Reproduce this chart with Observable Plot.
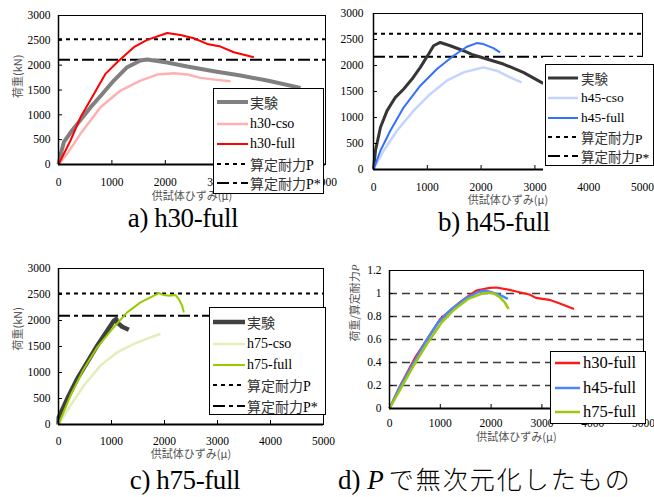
<!DOCTYPE html>
<html><head><meta charset="utf-8">
<script src="https://cdn.jsdelivr.net/npm/d3@7"></script>
<script src="https://cdn.jsdelivr.net/npm/@observablehq/plot@0.6"></script>
<style>
body{margin:0;background:#fff;}
#root{position:relative;width:654px;height:497px;overflow:hidden;background:#fff;}
.legend{position:absolute;background:#fff;border:1px solid #000;box-sizing:border-box;}
.cjk{font-family:"Noto Sans CJK JP",sans-serif;color:#333;}
.lat{font-family:"Liberation Serif",serif;color:#000;}
</style></head><body><div id="root"></div>
<script>
// ---------- data ----------
const xTicks = [0, 1000, 2000, 3000, 4000, 5000];
const loadTicks = [0, 500, 1000, 1500, 2000, 2500, 3000];
const ratioTicks = [0, 0.2, 0.4, 0.6, 0.8, 1, 1.2];
const ratioGrid = [0.2, 0.4, 0.6, 0.8, 1.0];
const xLabelText = "供試体ひずみ(μ)";
const yLabelLoad = "荷重(kN)";
const yLabelRatio = "荷重/算定耐力P";
const legendLabelsA = ["実験", "h30-cso", "h30-full", "算定耐力P", "算定耐力P*"];
const legendLabelsB = ["実験", "h45-cso", "h45-full", "算定耐力P", "算定耐力P*"];
const legendLabelsC = ["実験", "h75-cso", "h75-full", "算定耐力P", "算定耐力P*"];
const legendLabelsD = ["h30-full", "h45-full", "h75-full"];
const captions = ["a) h30-full", "b) h45-full", "c) h75-full"];

// panel a (h30)
const a_P = 2520, a_Pstar = 2110;
const a_exp_x = [0, 40, 100, 250, 400, 599, 787, 1036, 1286, 1536, 1661, 2035, 2410, 2909, 3408, 3908, 4532];
const a_exp_y = [0, 200, 450, 680, 880, 1150, 1380, 1690, 1959, 2093, 2115, 2052, 1972, 1878, 1791, 1690, 1543];
const a_cso_x = [0, 162, 412, 787, 1161, 1536, 1848, 2160, 2410, 2659, 2972, 3221];
const a_cso_y = [0, 215, 617, 1153, 1489, 1690, 1811, 1837, 1811, 1744, 1704, 1676];
const a_full_x = [0, 225, 412, 599, 880, 1099, 1411, 1661, 2035, 2285, 2534, 2784, 3034, 3283, 3658];
const a_full_y = [0, 483, 950, 1300, 1825, 2059, 2361, 2509, 2649, 2609, 2542, 2428, 2374, 2260, 2159];

// panel b (h45)
const b_P = 2610, b_Pstar = 2170;
const b_exp_x = [0, 37, 130, 253, 407, 562, 716, 870, 1025, 1117, 1241, 1426, 1673, 1858, 2167, 2413, 2784, 3154];
const b_exp_y = [0, 365, 812, 1132, 1388, 1548, 1740, 1964, 2220, 2380, 2443, 2380, 2284, 2201, 2105, 2028, 1868, 1657];
const b_cso_x = [0, 191, 438, 747, 1056, 1364, 1673, 1920, 2043, 2290, 2537, 2753];
const b_cso_y = [0, 365, 749, 1132, 1453, 1708, 1868, 1932, 1964, 1900, 1772, 1676];
const b_full_x = [0, 130, 315, 562, 870, 1179, 1488, 1735, 1920, 2043, 2228, 2352];
const b_full_y = [0, 365, 749, 1196, 1612, 1932, 2188, 2361, 2431, 2412, 2335, 2252];

// panel c (h75)
const c_P = 2520, c_Pstar = 2090;
const c_exp_x = [0, 6, 164, 352, 541, 730, 918, 1044, 1088, 1107, 1201, 1327];
const c_exp_y = [0, 141, 493, 877, 1196, 1516, 1804, 1996, 2028, 1964, 1881, 1823];
const c_cso_x = [0, 226, 478, 792, 1107, 1421, 1736, 1925];
const c_cso_y = [0, 365, 749, 1132, 1388, 1549, 1676, 1741];
const c_full_x = [0, 226, 478, 730, 1013, 1296, 1547, 1736, 1893, 1987, 2082, 2208, 2270, 2333, 2365];
const c_full_y = [0, 557, 1069, 1484, 1836, 2156, 2348, 2444, 2528, 2489, 2476, 2489, 2412, 2284, 2156];

// panel d (normalised by P)
const d_h30_x = [0, 200, 500, 1000, 1400, 1712, 1973, 2103, 2363, 2494, 2754, 2884, 3145, 3340, 3633];
const d_h30_y = [0, 0.19, 0.44, 0.78, 0.93, 1.026, 1.049, 1.052, 1.032, 1.017, 0.991, 0.962, 0.945, 0.915, 0.866];
const d_h45_x = [0, 182, 443, 703, 963, 1225, 1484, 1744, 1875, 2006, 2168, 2330];
const d_h45_y = [0, 0.169, 0.372, 0.575, 0.750, 0.866, 0.953, 1.011, 1.026, 1.011, 0.988, 0.953];
const d_h75_x = [0, 215, 475, 736, 1029, 1289, 1549, 1810, 1940, 2070, 2168, 2266, 2344];
const d_h75_y = [0, 0.169, 0.372, 0.561, 0.750, 0.866, 0.953, 0.997, 1.006, 0.997, 0.968, 0.924, 0.866];

// ---------- helpers ----------
const root = document.getElementById("root");
const SVGNS = "http://www.w3.org/2000/svg";
const rows = (xs, ys) => xs.map((x, i) => ({x, y: ys[i]}));
const CJKF = "'Noto Sans CJK JP', sans-serif";
const SERIF = "'Liberation Serif', 'Times New Roman', serif";
const PSTYLE = {color: "#000", width: 2, dash: "4,4"};
const PSSTYLE = {color: "#000", width: 2, dash: "12,4,4,4"};

function rich(str) {
  return str.replace(/([\u3000-\u9fff\uff00-\uffef]+)|([^\u3000-\u9fff\uff00-\uffef]+)/g,
    (m, c, l) => c ? `<span class="cjk">${c}</span>` : `<span class="lat">${l}</span>`);
}

function makePanel(o) {
  const marks = [];
  if (o.grid) marks.push(Plot.ruleY(o.grid, {stroke: "#3a3a3a", strokeWidth: 1.4, strokeDasharray: "8,5"}));
  marks.push(Plot.frame({stroke: "#000", strokeWidth: 1}));
  if (o.P != null) marks.push(Plot.ruleY([o.P], {stroke: "#000", strokeWidth: 2, strokeDasharray: PSTYLE.dash}));
  if (o.Pstar != null) marks.push(Plot.ruleY([o.Pstar], {stroke: "#000", strokeWidth: 2, strokeDasharray: PSSTYLE.dash}));
  for (const s of o.series) {
    marks.push(Plot.line(s.data, {x: "x", y: "y", stroke: s.color, strokeWidth: s.width, strokeLinejoin: "round", strokeLinecap: "butt"}));
  }
  marks.push(Plot.ruleY([0], {stroke: "#000", strokeWidth: 2}));
  marks.push(Plot.ruleX([0], {stroke: "#000", strokeWidth: 1.5}));
  marks.push(Plot.axisX({ticks: xTicks, tickSize: -4, tickPadding: o.padX, tickFormat: d => String(d), label: null}));
  marks.push(Plot.axisY({ticks: o.yTicks, tickSize: -4, tickPadding: o.padY, tickFormat: d => String(d), label: null}));
  marks.push(Plot.text([xLabelText], {frameAnchor: "bottom", dy: o.xLabelDy, fill: "#555", fontFamily: CJKF, fontSize: 11}));
  if (o.yLabel) marks.push(Plot.text([o.yLabel], {frameAnchor: "left", dx: o.yLabelDx, dy: o.yLabelDy, rotate: -90, fill: "#555", fontFamily: CJKF, fontSize: 11}));
  const svg = Plot.plot({
    width: o.width, height: o.height,
    marginTop: o.m[0], marginRight: o.m[1], marginBottom: o.m[2], marginLeft: o.m[3],
    x: {domain: [0, 5000]},
    y: {domain: o.yDomain},
    style: {fontFamily: SERIF, fontSize: "11.5px", color: "#000", background: "transparent", overflow: "visible"},
    marks
  });
  svg.style.position = "absolute";
  svg.style.left = o.left + "px";
  svg.style.top = o.top + "px";
  root.appendChild(svg);
  return svg;
}

function makeLegend(o) {
  if (o.mask) {
    const m = document.createElement("div");
    m.style.cssText = `position:absolute;left:${o.mask[0]}px;top:${o.mask[1]}px;width:${o.mask[2]}px;height:${o.mask[3]}px;background:#fff;`;
    root.appendChild(m);
  }
  const box = document.createElement("div");
  box.className = "legend";
  box.style.cssText += `left:${o.left}px;top:${o.top}px;width:${o.width}px;height:${o.height}px;`;
  o.items.forEach((it, i) => {
    const row = document.createElement("div");
    const cy = o.rowsY[i] - o.top - 1;
    row.style.cssText = `position:absolute;left:0;top:${cy - 12}px;height:24px;width:${o.width - 2}px;`;
    const x1 = o.sampleX[0] - o.left - 1, x2 = o.sampleX[1] - o.left - 1;
    row.innerHTML =
      `<svg width="${o.width - 2}" height="24" style="position:absolute;left:0;top:0">` +
      `<line x1="${x1}" x2="${x2}" y1="12" y2="12" stroke="${it.color}" stroke-width="${it.width}"${it.dash ? ` stroke-dasharray="${it.dash}"` : ""}/></svg>` +
      `<div style="position:absolute;left:${o.textX - o.left - 1}px;top:0;height:24px;line-height:24px;font-size:${o.fontSize}px;white-space:nowrap">${rich(o.labels[i])}</div>`;
    box.appendChild(row);
  });
  root.appendChild(box);
}

// ---------- series styles ----------
const A = [
  {data: rows(a_exp_x, a_exp_y), color: "#808080", width: 4},
  {data: rows(a_cso_x, a_cso_y), color: "#ffb0b0", width: 2.5},
  {data: rows(a_full_x, a_full_y), color: "#ff0000", width: 2}
];
const B = [
  {data: rows(b_exp_x, b_exp_y), color: "#363636", width: 3},
  {data: rows(b_cso_x, b_cso_y), color: "#c4d4ff", width: 2.5},
  {data: rows(b_full_x, b_full_y), color: "#3370ff", width: 2}
];
const C = [
  {data: rows(c_exp_x, c_exp_y), color: "#404040", width: 4.5},
  {data: rows(c_cso_x, c_cso_y), color: "#e2efb8", width: 2.5},
  {data: rows(c_full_x, c_full_y), color: "#99cc00", width: 2}
];
const D = [
  {data: rows(d_h30_x, d_h30_y), color: "#ff1a1a", width: 2.2},
  {data: rows(d_h45_x, d_h45_y), color: "#4a86ff", width: 2.5},
  {data: rows(d_h75_x, d_h75_y), color: "#9cc910", width: 2.5}
];

// ---------- panels ----------
makePanel({left: 0, top: 0, width: 330, height: 205, m: [15, 5, 41, 58], yDomain: [0, 3000], yTicks: loadTicks,
  series: A, P: a_P, Pstar: a_Pstar, padX: 17.5, padY: 12, xLabelDy: 35, yLabel: yLabelLoad, yLabelDx: -40, yLabelDy: 8});
makePanel({left: 330, top: 0, width: 324, height: 210, m: [13, 12, 41, 43], yDomain: [0, 3000], yTicks: loadTicks,
  series: B, P: b_P, Pstar: b_Pstar, padX: 17.5, padY: 14, xLabelDy: 34});
makePanel({left: 0, top: 255, width: 330, height: 210, m: [13, 7, 41, 58], yDomain: [0, 3000], yTicks: loadTicks,
  series: C, P: c_P, Pstar: c_Pstar, padX: 16.5, padY: 12, xLabelDy: 33, yLabel: yLabelLoad, yLabelDx: -40, yLabelDy: 4});
const svgD = makePanel({left: 330, top: 255, width: 324, height: 200, m: [15, 11, 47, 59], yDomain: [0, 1.2], yTicks: ratioTicks,
  grid: ratioGrid, series: D, padX: 14.5, padY: 12, xLabelDy: 32, yLabel: yLabelRatio, yLabelDx: -34, yLabelDy: 2});
for (const t of svgD.querySelectorAll("text")) {
  if (t.textContent === yLabelRatio) {
    t.textContent = yLabelRatio.slice(0, -1);
    const ts = document.createElementNS(SVGNS, "tspan");
    ts.setAttribute("font-style", "italic");
    ts.setAttribute("font-family", SERIF);
    ts.textContent = "P";
    t.appendChild(ts);
  }
}

// ---------- legends ----------
const legStyles = (S) => [S[0], S[1], S[2], PSTYLE, PSSTYLE].map(s => ({color: s.color, width: s.width, dash: s.dash}));
makeLegend({left: 213, top: 88, width: 111, height: 106, items: legStyles(A), labels: legendLabelsA,
  rowsY: [102, 124, 144, 164, 183], sampleX: [217, 248], textX: 250, fontSize: 14});
makeLegend({left: 545, top: 64, width: 109, height: 102, items: legStyles(B), labels: legendLabelsB,
  rowsY: [78, 98, 118, 137, 156], sampleX: [548, 578], textX: 581, fontSize: 13.5, mask: [543, 57, 111, 115]});
makeLegend({left: 209, top: 307, width: 117, height: 108, items: legStyles(C), labels: legendLabelsC,
  rowsY: [322, 344, 365, 385, 406], sampleX: [213, 245], textX: 247, fontSize: 14});
makeLegend({left: 550, top: 351, width: 96, height: 73, items: D.map(s => ({color: s.color, width: 2.5})), labels: legendLabelsD,
  rowsY: [363, 388, 412], sampleX: [555, 580], textX: 583, fontSize: 16.5});

// ---------- captions ----------
const cap = document.createElementNS(SVGNS, "svg");
cap.setAttribute("width", 654); cap.setAttribute("height", 497);
cap.style.cssText = "position:absolute;left:0;top:0;pointer-events:none;overflow:visible";
const capPos = [[183, 227], [494, 231], [185, 489]];
captions.forEach((c, i) => {
  const t = document.createElementNS(SVGNS, "text");
  t.setAttribute("x", capPos[i][0]); t.setAttribute("y", capPos[i][1]);
  t.setAttribute("text-anchor", "middle");
  t.setAttribute("font-family", SERIF); t.setAttribute("font-size", 27);
  t.setAttribute("letter-spacing", "-0.4");
  t.textContent = c;
  cap.appendChild(t);
});
{
  const t = document.createElementNS(SVGNS, "text");
  t.setAttribute("x", 338); t.setAttribute("y", 489);
  t.setAttribute("font-family", SERIF); t.setAttribute("font-size", 27);
  t.innerHTML = `<tspan>d) </tspan><tspan font-style="italic">P</tspan><tspan dx="5" font-family="${CJKF}" font-weight="300" font-size="25" letter-spacing="2">で無次元化したもの</tspan>`;
  cap.appendChild(t);
}
root.appendChild(cap);
</script></body></html>
